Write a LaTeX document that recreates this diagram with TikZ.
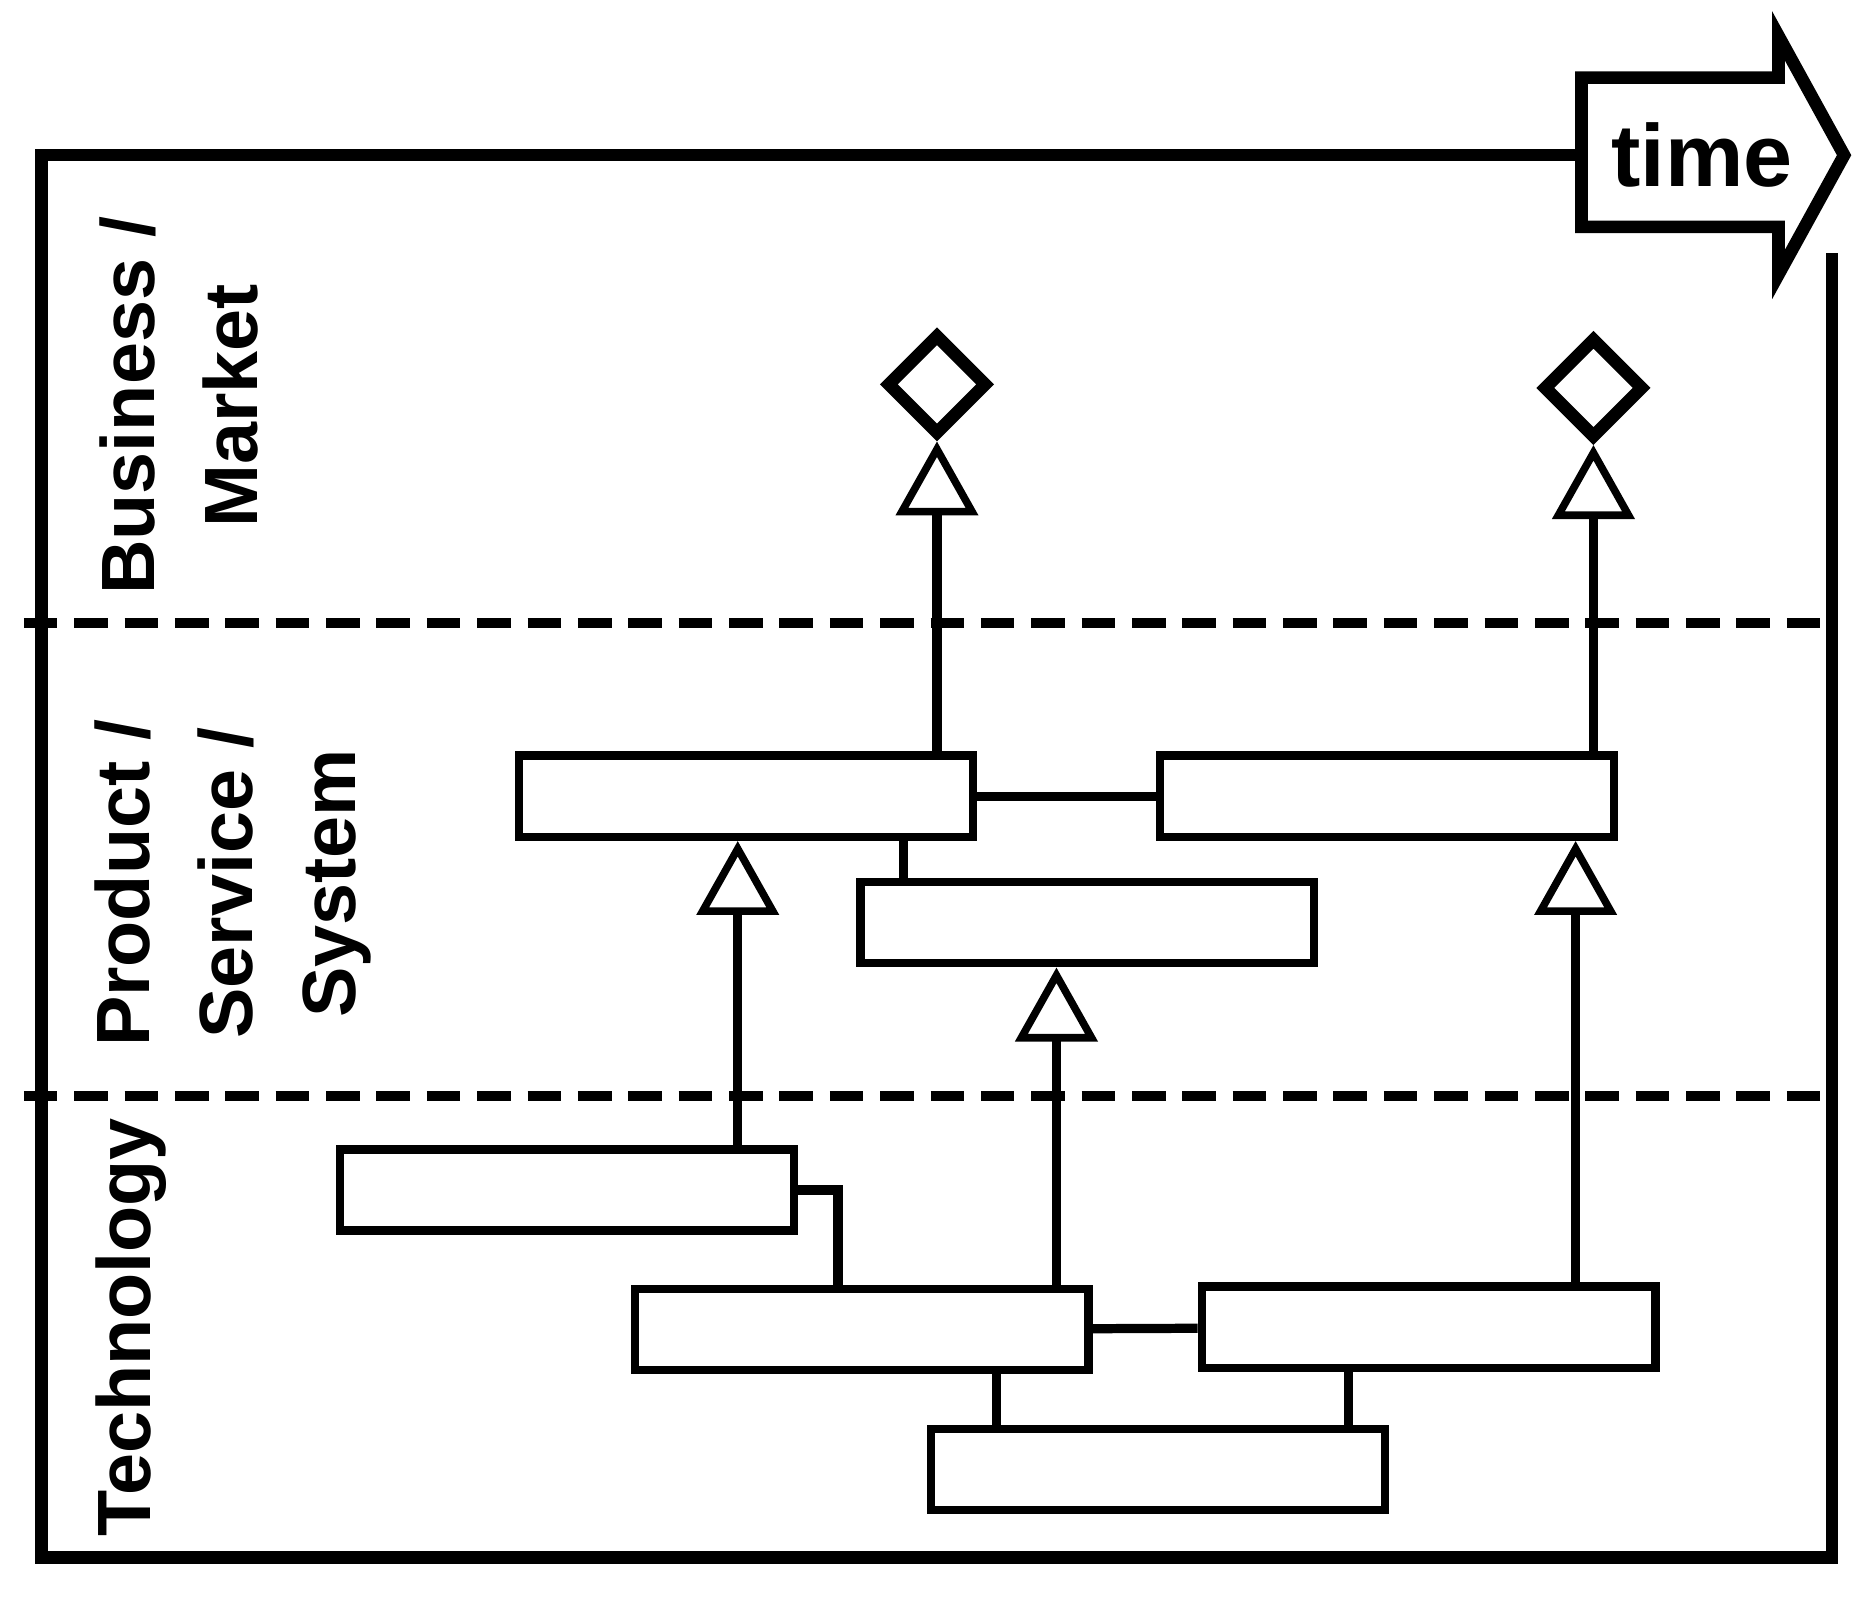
\documentclass[tikz,border=0pt]{standalone}
\usepackage{fontspec}
\setmainfont{Liberation Sans}
\usetikzlibrary{positioning,arrows.meta,shapes.geometric}

\begin{document}
\begin{tikzpicture}[x=0.01cm,y=-0.01cm,
  blk/.style={draw=black, line width=2pt, minimum width=3.8cm, minimum height=0.68cm, inner sep=0pt},
  goal/.style={diamond, draw=black, line width=3pt, minimum width=0.85cm, minimum height=0.85cm, inner sep=0pt},
  tri/.style={draw=black, line width=2.2pt, -{Triangle[open, length=0.62cm, width=0.68cm, line width=1.8pt]}},
  link/.style={draw=black, line width=2.2pt},
  lane/.style={draw=black, line width=2.4pt, dash pattern=on 8pt off 4pt},
  lbl/.style={rotate=90, align=center, font=\bfseries\fontsize{18}{24.5}\selectfont}]
\useasboundingbox (0,0) rectangle (1560,1344);
% frame and time arrow
\draw[line width=3pt] (1325,130) -- (35,130) -- (35,1305) -- (1535,1305) -- (1535,212);
\draw[line width=3pt, line join=miter] (1325,65) -- (1490,65) -- (1490,30) -- (1545,130) -- (1490,230) -- (1490,190) -- (1325,190) -- cycle;
\node[font=\bfseries\fontsize{21}{25}\selectfont] (time) at (1426,130) {time};
% lanes
\draw[lane] (20,522) -- (1535,522);
\draw[lane] (20,918) -- (1535,918);
\node[lbl] (bm) at (150,340) {Business /\\Market};
\node[lbl] (pss) at (195,740) {Product /\\Service /\\System};
\node[lbl] (tech) at (110,1112) {Technology};
% blocks
\node[blk] (pa) at (625,667) {};
\node[blk] (pb) at (1162,667) {};
\node[blk] (pc) at (911,773) {};
\node[blk] (ta) at (475,997) {};
\node[blk] (tb) at (722,1114) {};
\node[blk] (tc) at (1197,1112) {};
\node[blk] (td) at (970,1231) {};
% goals
\node[goal] (ga) at (785,322) {};
\node[goal] (gb) at (1335,325) {};
% connectors
\draw[tri] (ga |- pa.north) -- (ga.south);
\draw[tri] (gb |- pb.north) -- (gb.south);
\draw[tri] ([xshift=1.43cm]ta.north) -- ([xshift=1.43cm]ta.north |- pa.south);
\draw[tri] ([xshift=1.63cm]tb.north) -- ([xshift=1.63cm]tb.north |- pc.south);
\draw[tri] ([xshift=1.23cm]tc.north) -- ([xshift=1.23cm]tc.north |- pb.south);
\draw[link] (pa) -- (pb);
\draw[link] (tb) -- (tc);
\draw[link] ([xshift=1.32cm]pa.south) -- ([xshift=1.32cm]pa.south |- pc.north);
\draw[link] (ta.east) -| ([xshift=-0.2cm]tb.north);
\draw[link] ([xshift=1.13cm]tb.south) -- ([xshift=1.13cm]tb.south |- td.north);
\draw[link] ([xshift=-0.67cm]tc.south) -- ([xshift=-0.67cm]tc.south |- td.north);
\end{tikzpicture}
\end{document}
